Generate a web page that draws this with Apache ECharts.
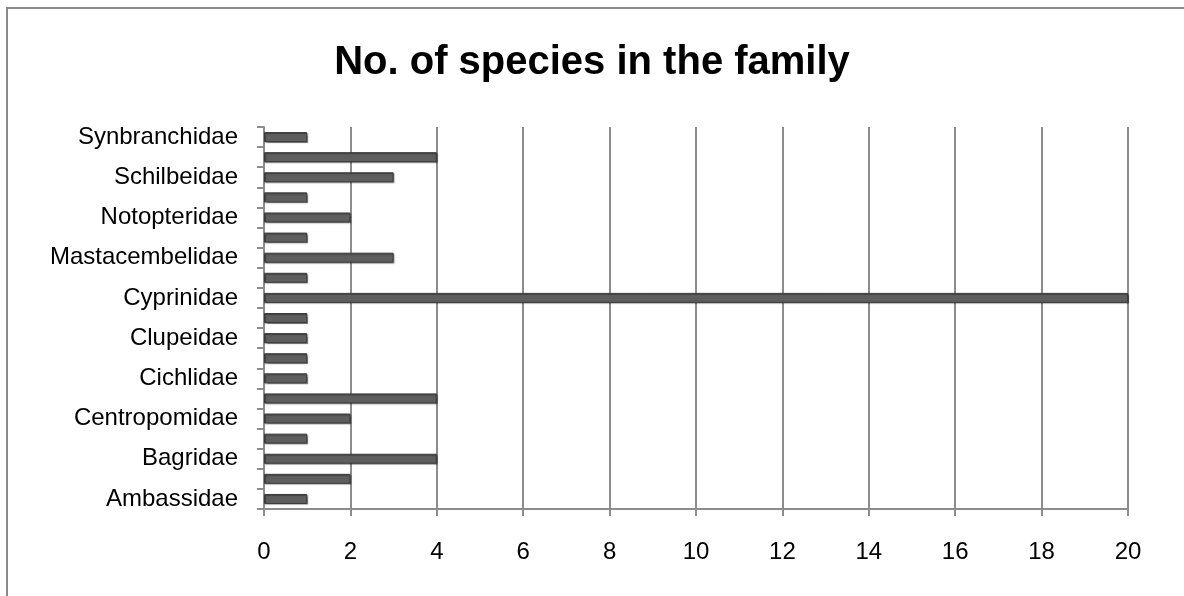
<!DOCTYPE html>
<html>
<head>
<meta charset="utf-8">
<script src="https://cdn.jsdelivr.net/npm/echarts@6/dist/echarts.min.js"></script>
<style>
  html, body { margin: 0; padding: 0; background: #fff; }
  #chart { width: 1184px; height: 596px; }
</style>
</head>
<body>
<div id="chart"></div>
<script>
// Fish families, listed bottom to top
const families = [
  'Ambassidae', 'Anabantidae', 'Bagridae', 'Belonidae', 'Centropomidae',
  'Channidae', 'Cichlidae', 'Clariidae', 'Clupeidae', 'Cobitidae',
  'Cyprinidae', 'Heteropneustidae', 'Mastacembelidae', 'Nandidae',
  'Notopteridae', 'Osphronemidae', 'Schilbeidae', 'Siluridae', 'Synbranchidae'
];
// Number of species recorded in each family
const speciesCount = [1, 2, 4, 1, 2, 4, 1, 1, 1, 1, 20, 1, 3, 1, 2, 1, 3, 4, 1];
// Value axis range and step
const axisMin = 0;
const axisMax = 20;
const axisStep = 2;

const chart = echarts.init(document.getElementById('chart'));
const font = 'Liberation Sans, Arial, sans-serif';

chart.setOption({
  animation: false,
  backgroundColor: '#ffffff',
  title: {
    text: 'No. of species in the family',
    left: 'center',
    top: 38,
    textStyle: { fontFamily: font, fontSize: 40, fontWeight: 'bold', color: '#000' }
  },
  graphic: [{
    type: 'rect',
    shape: { x: 7, y: 8, width: 1200, height: 620 },
    style: { fill: 'none', stroke: '#8a8a8a', lineWidth: 2 },
    silent: true
  }],
  grid: { left: 264, right: 56, top: 127, bottom: 87 },
  xAxis: {
    type: 'value',
    min: axisMin,
    max: axisMax,
    interval: axisStep,
    axisLine: { show: true, lineStyle: { color: '#8c8c8c', width: 2 } },
    axisTick: { show: true, length: 7, lineStyle: { color: '#8c8c8c', width: 2 } },
    axisLabel: { fontFamily: font, fontSize: 24, color: '#000', margin: 31 },
    splitLine: { show: true, lineStyle: { color: '#8c8c8c', width: 2 } }
  },
  yAxis: {
    type: 'category',
    data: families,
    axisLine: { show: true, lineStyle: { color: '#8c8c8c', width: 2 } },
    axisTick: { show: true, length: 7, interval: 0, lineStyle: { color: '#8c8c8c', width: 2 } },
    axisLabel: { interval: 1, fontFamily: font, fontSize: 24, color: '#000', margin: 26 },
    splitLine: { show: false }
  },
  series: [{
    type: 'bar',
    data: speciesCount,
    barWidth: 10,
    itemStyle: {
      color: '#5e5e5e',
      borderColor: '#3a3a3a',
      borderWidth: 1,
      shadowColor: 'rgba(0,0,0,0.35)',
      shadowOffsetX: 1,
      shadowOffsetY: 1,
      shadowBlur: 1
    }
  }]
});
</script>
</body>
</html>
